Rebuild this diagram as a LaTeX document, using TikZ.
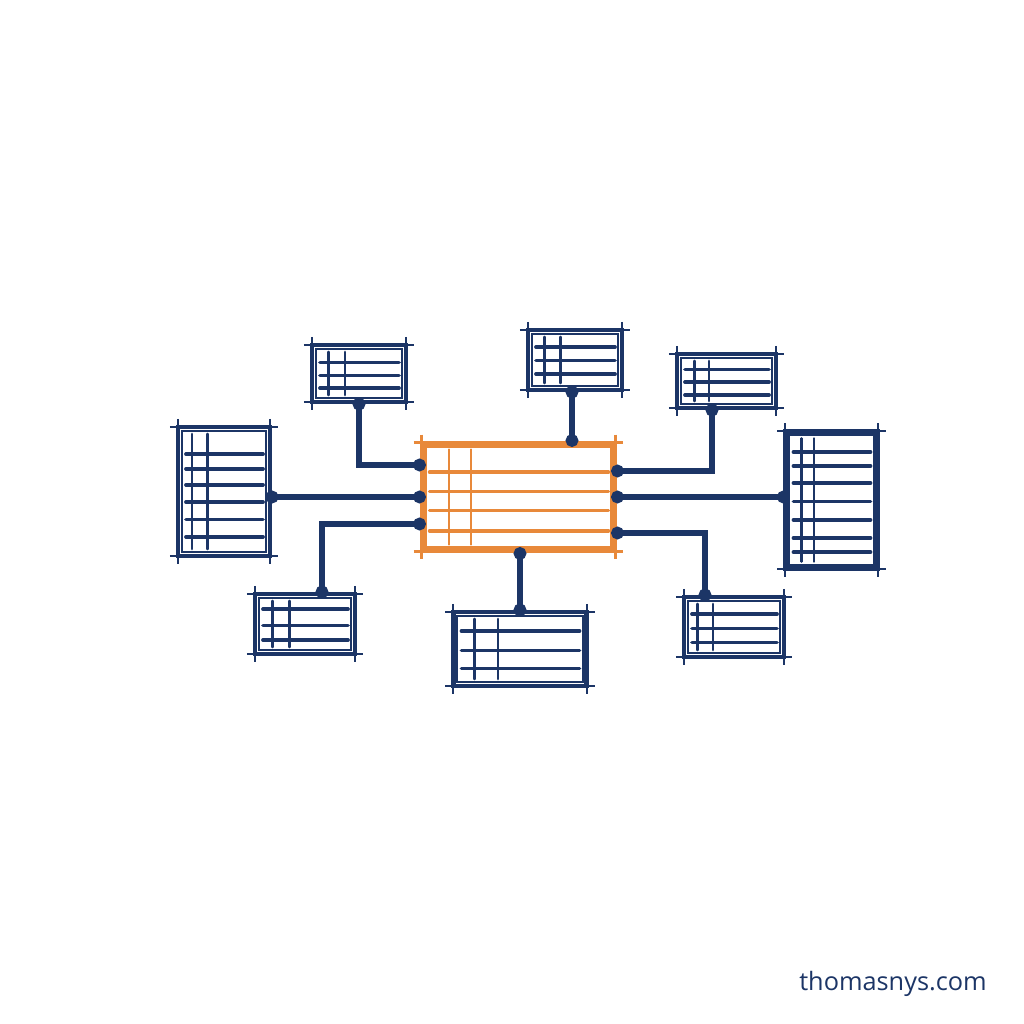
\documentclass[tikz,border=0pt]{standalone}
\usepackage{fontspec}
\newfontfamily\sitefont{Open Sans}
\usetikzlibrary{arrows.meta, calc}
\definecolor{navy}{HTML}{1C3566}
\definecolor{orng}{HTML}{E8893A}

\begin{document}
\begin{tikzpicture}[
    tbl/.style={rectangle, draw=navy, line width=1.2pt, inner sep=0pt},
    hub/.style={rectangle, draw=orng, line width=1.4pt, inner sep=0pt},
    link/.style={navy, line width=1.5pt, {Circle[length=3.6pt]}-{Circle[length=3.6pt]},
        shorten <=-1.8pt, shorten >=-1.8pt},
    gridline/.style={line width=1.0pt, line cap=round}
]
\useasboundingbox (0,0) rectangle (10.24,10.24);

% Tables placed at fixed positions
\node[hub, minimum width=1.93cm, minimum height=1.08cm] (C) at (5.185,5.27) {};
\node[tbl, minimum width=0.94cm, minimum height=0.57cm] (T1) at (3.59,6.505) {};
\node[tbl, minimum width=0.94cm, minimum height=0.60cm] (T2) at (5.75,6.64) {};
\node[tbl, minimum width=0.99cm, minimum height=0.54cm] (T3) at (7.265,6.43) {};
\node[tbl, minimum width=0.92cm, minimum height=1.29cm] (L) at (2.24,5.325) {};
\node[tbl, minimum width=0.92cm, minimum height=1.37cm] (R) at (8.315,5.24) {};
\node[tbl, minimum width=1.00cm, minimum height=0.60cm] (B1) at (3.05,4.00) {};
\node[tbl, minimum width=1.33cm, minimum height=0.74cm] (B2) at (5.20,3.75) {};
\node[tbl, minimum width=1.00cm, minimum height=0.60cm] (B3) at (7.34,3.97) {};

% Sketchy borders and table rows
\foreach \n/\c/\rows/\cols in {
    C/orng/{0.28,0.45,0.62,0.80}/{0.15,0.26},
    T1/navy/{0.32,0.53,0.74}/{0.19,0.36},
    T2/navy/{0.30,0.51,0.72}/{0.19,0.35},
    T3/navy/{0.30,0.52,0.74}/{0.19,0.33},
    L/navy/{0.22,0.33,0.45,0.58,0.71,0.84}/{0.17,0.33},
    R/navy/{0.16,0.26,0.38,0.51,0.64,0.77,0.87}/{0.19,0.32},
    B1/navy/{0.27,0.52,0.75}/{0.19,0.35},
    B2/navy/{0.27,0.52,0.75}/{0.17,0.34},
    B3/navy/{0.30,0.52,0.74}/{0.15,0.30}} {
  \draw[\c, line width=0.6pt]
    ([shift={(0.06,-0.06)}]\n.north west) rectangle ([shift={(-0.06,0.06)}]\n.south east);
  \draw[\c, line width=0.6pt]
    ([shift={(-0.06,-0.02)}]\n.north west) -- ([shift={(0.06,-0.02)}]\n.north east)
    ([shift={(-0.06,0.02)}]\n.south west) -- ([shift={(0.06,0.02)}]\n.south east)
    ([shift={(0.02,0.06)}]\n.north west) -- ([shift={(0.02,-0.06)}]\n.south west)
    ([shift={(-0.02,0.06)}]\n.north east) -- ([shift={(-0.02,-0.06)}]\n.south east);
  \foreach \f in \rows
    \draw[gridline, \c] ($(\n.north west)!\f!(\n.south west) + (0.10,0)$)
      -- ($(\n.north east)!\f!(\n.south east) + (-0.09,0)$);
  \foreach \g in \cols
    \draw[gridline, \c, line width=0.7pt] ($(\n.north west)!\g!(\n.north east) + (0,-0.09)$)
      -- ($(\n.south west)!\g!(\n.south east) + (0,0.09)$);
}

% Links
\draw[link] (T1.south) |- ([yshift=0.32cm]C.west);
\draw[link] (L.east |- C.west) -- (C.west);
\draw[link] ([xshift=0.17cm]B1.north) |- ([yshift=-0.27cm]C.west);
\draw[link] ([xshift=-0.03cm]T2.south) -- ([xshift=-0.03cm]T2.south |- C.north);
\draw[link] (B2.north) -- (B2.north |- C.south);
\draw[link] ([xshift=-0.145cm]T3.south) |- ([yshift=0.26cm]C.east);
\draw[link] (C.east) -- (C.east -| R.west);
\draw[link] ([xshift=-0.29cm]B3.north) |- ([yshift=-0.36cm]C.east);

\node[text=navy, font=\sitefont\fontsize{7.2}{9}\selectfont] (site) at (8.93,0.40) {thomasnys.com};
\end{tikzpicture}
\end{document}
